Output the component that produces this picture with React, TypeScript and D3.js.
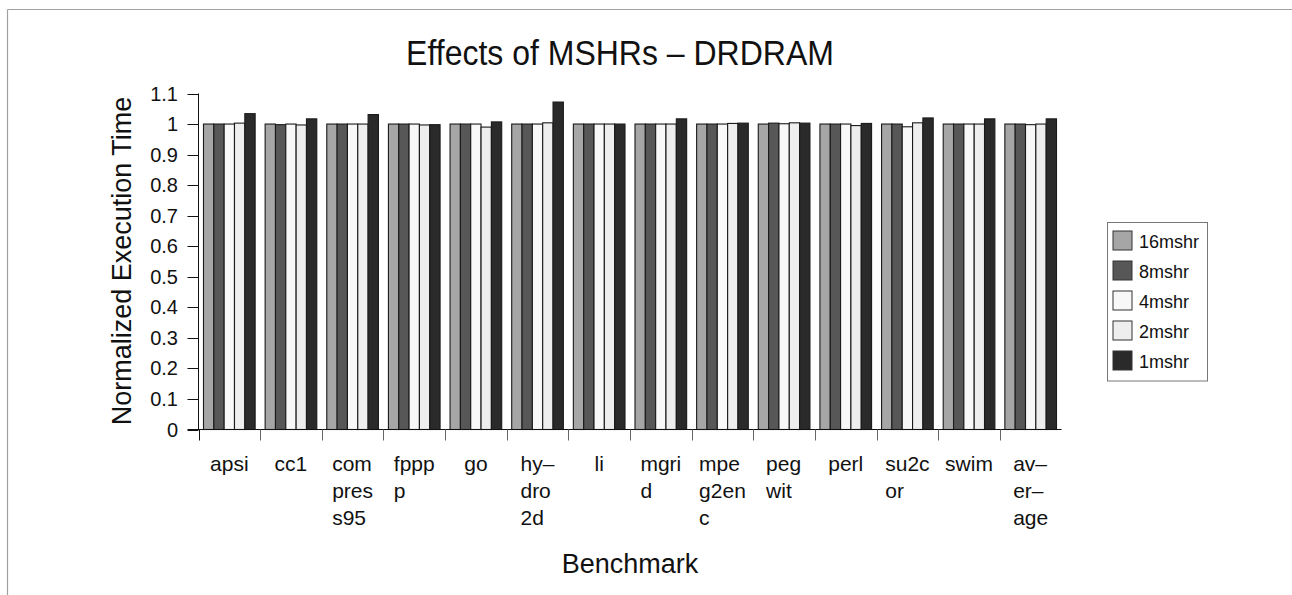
import React, { useEffect, useRef } from "react";
import * as d3 from "d3";

const title = "Effects of MSHRs – DRDRAM";
const yAxisTitle = "Normalized Execution Time";
const xAxisTitle = "Benchmark";

const categories = [
  "apsi", "cc1", "compress95", "fpppp", "go", "hydro2d", "li",
  "mgrid", "mpeg2enc", "pegwit", "perl", "su2cor", "swim", "average",
];
const categoryLabelLines = [
  ["apsi"], ["cc1"], ["com", "pres", "s95"], ["fppp", "p"], ["go"],
  ["hy–", "dro", "2d"], ["li"], ["mgri", "d"], ["mpe", "g2en", "c"],
  ["peg", "wit"], ["perl"], ["su2c", "or"], ["swim"], ["av–", "er–", "age"],
];
const seriesNames = ["16mshr", "8mshr", "4mshr", "2mshr", "1mshr"];
const seriesColors = ["#a6a6a6", "#575757", "#f8f8f8", "#eeeeee", "#2a2a2a"];

const mshr16 = [1.0, 1.0, 1.0, 1.0, 1.0, 1.0, 1.0, 1.0, 1.0, 1.0, 1.0, 1.0, 1.0, 1.0];
const mshr8 = [1.0, 0.998, 1.0, 1.0, 1.0, 1.0, 1.0, 1.0, 1.0, 1.003, 1.0, 1.0, 1.0, 1.0];
const mshr4 = [1.0, 1.0, 1.0, 1.0, 1.0, 1.0, 1.0, 1.0, 1.0, 1.001, 1.0, 0.991, 1.0, 0.998];
const mshr2 = [1.003, 0.997, 1.0, 0.997, 0.99, 1.004, 1.0, 1.0, 1.002, 1.004, 0.995, 1.004, 1.0, 1.0];
const mshr1 = [1.034, 1.017, 1.031, 0.998, 1.007, 1.072, 1.0, 1.017, 1.003, 1.003, 1.002, 1.02, 1.017, 1.017];
const seriesValues = [mshr16, mshr8, mshr4, mshr2, mshr1];

const yTicks = [0, 0.1, 0.2, 0.3, 0.4, 0.5, 0.6, 0.7, 0.8, 0.9, 1, 1.1];

const W = 1292;
const H = 595;
const FONT = "'Liberation Sans', Arial, Helvetica, sans-serif";

export default function App() {
  const ref = useRef<SVGSVGElement | null>(null);

  useEffect(() => {
    const svg = d3.select(ref.current);
    svg.selectAll("*").remove();

    const left = 198.5;
    const right = 1061.5;
    const top = 93.5;
    const bottom = 429.5;

    const x0 = d3.scaleBand<string>().domain(categories).range([left, right]).paddingInner(0).paddingOuter(0);
    const bw = x0.bandwidth();
    const pad = bw * 0.081;
    const x1 = d3.scaleBand<string>().domain(seriesNames).range([pad, bw - pad]).padding(0);
    const y = d3.scaleLinear().domain([0, 1.1]).range([bottom, top]);

    // Border
    svg.append("line").attr("x1", 7.5).attr("x2", W).attr("y1", 9.5).attr("y2", 9.5).attr("stroke", "#a0a0a0").attr("stroke-width", 1.2);
    svg.append("line").attr("x1", 7.5).attr("x2", 7.5).attr("y1", 9.5).attr("y2", H).attr("stroke", "#a0a0a0").attr("stroke-width", 1.2);

    // Title
    svg.append("text").attr("transform", "translate(620,65) scale(1,1.1)").attr("text-anchor", "middle")
      .attr("font-family", FONT).attr("font-size", 32).attr("fill", "#111").text(title);

    // Bars
    const g = svg.append("g");
    categories.forEach((c, ci) => {
      seriesNames.forEach((s, si) => {
        const v = seriesValues[si][ci];
        g.append("rect")
          .attr("x", (x0(c) as number) + (x1(s) as number))
          .attr("y", y(v))
          .attr("width", x1.bandwidth())
          .attr("height", y(0) - y(v))
          .attr("fill", seriesColors[si])
          .attr("stroke", "#1a1a1a")
          .attr("stroke-width", 1.1);
      });
    });

    // Y axis
    const ya = svg.append("g");
    ya.append("line").attr("x1", left).attr("x2", left).attr("y1", y(1.1)).attr("y2", bottom).attr("stroke", "#111");
    yTicks.forEach((t) => {
      ya.append("line").attr("x1", left - 11).attr("x2", left).attr("y1", Math.round(y(t)) + 0.5).attr("y2", Math.round(y(t)) + 0.5).attr("stroke", "#111");
      ya.append("text").attr("x", 178).attr("y", y(t) + 7).attr("text-anchor", "end")
        .attr("font-family", FONT).attr("font-size", 20).attr("fill", "#111").text(d3.format("~g")(t));
    });

    // X axis
    const xa = svg.append("g");
    xa.append("line").attr("x1", left - 11).attr("x2", right).attr("y1", bottom).attr("y2", bottom).attr("stroke", "#111");
    categories.forEach((c, i) => {
      const bx = Math.round(x0(c) as number) + 0.5;
      xa.append("line").attr("x1", bx).attr("x2", bx).attr("y1", bottom).attr("y2", bottom + 11)
        .attr("stroke", i === 0 ? "#111" : "#666");
      const t = xa.append("text").attr("font-family", FONT).attr("font-size", 21).attr("fill", "#111");
      categoryLabelLines[i].forEach((ln, li) => {
        t.append("tspan").attr("x", 0).attr("y", 471 + li * 27).text(ln);
      });
      const node = t.node() as SVGTextElement;
      const w = node.getBBox().width;
      const cx = (x0(c) as number) + bw / 2;
      t.attr("transform", `translate(${cx - w / 2},0)`);
    });

    // Axis titles
    svg.append("text").attr("transform", `translate(131,261) rotate(-90)`).attr("text-anchor", "middle")
      .attr("font-family", FONT).attr("font-size", 27).attr("fill", "#111").text(yAxisTitle);
    svg.append("text").attr("x", 630).attr("y", 573).attr("text-anchor", "middle")
      .attr("font-family", FONT).attr("font-size", 27).attr("fill", "#111").text(xAxisTitle);

    // Legend
    const lg = svg.append("g");
    lg.append("rect").attr("x", 1107.5).attr("y", 222.5).attr("width", 100).attr("height", 158.5)
      .attr("fill", "#fff").attr("stroke", "#777").attr("stroke-width", 1);
    seriesNames.forEach((s, i) => {
      const ty = 231 + i * 30;
      lg.append("rect").attr("x", 1113).attr("y", ty).attr("width", 19).attr("height", 19)
        .attr("fill", seriesColors[i]).attr("stroke", "#333").attr("stroke-width", 1);
      lg.append("text").attr("x", 1139).attr("y", ty + 16.5).attr("font-family", FONT)
        .attr("font-size", 18).attr("fill", "#111").text(s);
    });
  }, []);

  return (
    <svg ref={ref} width={W} height={H}
      style={{ position: "absolute", left: 0, top: 0, background: "#fff", display: "block" }} />
  );
}
